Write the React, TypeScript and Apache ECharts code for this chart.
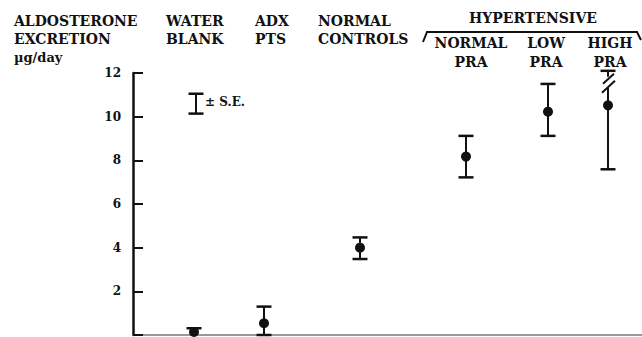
import React, { useEffect, useRef } from "react";
import * as echarts from "echarts";

// Column headers (two lines each) and their horizontal positions on the x value axis
const groupLine1 = ["WATER", "ADX", "NORMAL", "NORMAL", "LOW", "HIGH"];
const groupLine2 = ["BLANK", "PTS", "CONTROLS", "PRA", "PRA", "PRA"];
const groupX = [61, 131, 227, 333, 415, 475];
// Aldosterone excretion, µg/day: mean and ± S.E. limits
const means = [0.14, 0.54, 4.0, 8.17, 10.23, 10.52];
const lowerSE = [0.14, 0.0, 3.48, 7.22, 9.12, 7.59];
const upperSE = [0.31, 1.3, 4.47, 9.12, 11.5, 12.1];
const brokenTop = [0, 0, 0, 0, 0, 1];
// Legend error bar (± S.E.) drawn on the value scale
const legendX = 63;
const legendLow = 10.14;
const legendHigh = 11.05;
const yTicks = [0, 2, 4, 6, 8, 10, 12];

const INK = "#111";
const SERIF = '"DejaVu Serif", "Liberation Serif", serif';

export default function App() {
  const ref = useRef<HTMLDivElement>(null);
  useEffect(() => {
    document.body.style.margin = "0";
    const chart = echarts.init(ref.current!, null, { renderer: "svg" });

    const data = means.map((m, i) => [groupX[i], m, lowerSE[i], upperSE[i], brokenTop[i], 1]);
    const legendData = [[legendX, (legendLow + legendHigh) / 2, legendLow, legendHigh, 0, 0]];

    const renderItem = (params: any, api: any) => {
      const x = api.value(0);
      const m = api.value(1);
      const lo = api.value(2);
      const hi = api.value(3);
      const br = api.value(4);
      const dot = api.value(5);
      const pm = api.coord([x, m]);
      const pl = api.coord([x, lo]);
      const ph = api.coord([x, hi]);
      const cx = pm[0];
      const hw = 7.5;
      const st = { stroke: INK, lineWidth: 2 };
      const children: any[] = [];
      children.push({ type: "line", shape: { x1: cx - hw, y1: ph[1], x2: cx + hw, y2: ph[1] }, style: { stroke: INK, lineWidth: 2.5 } });
      if (lo < m || !dot) {
        children.push({ type: "line", shape: { x1: cx - hw, y1: pl[1], x2: cx + hw, y2: pl[1] }, style: { stroke: INK, lineWidth: 2.5 } });
      }
      if (br) {
        children.push({ type: "line", shape: { x1: cx, y1: ph[1], x2: cx, y2: ph[1] + 6 }, style: st });
        children.push({ type: "line", shape: { x1: cx - 5, y1: ph[1] + 13, x2: cx + 6, y2: ph[1] + 3 }, style: st });
        children.push({ type: "line", shape: { x1: cx - 6, y1: ph[1] + 22, x2: cx + 7, y2: ph[1] + 10 }, style: st });
        children.push({ type: "line", shape: { x1: cx, y1: ph[1] + 17, x2: cx, y2: pl[1] }, style: st });
      } else {
        children.push({ type: "line", shape: { x1: cx, y1: ph[1], x2: cx, y2: pl[1] }, style: st });
      }
      if (dot) {
        children.push({ type: "circle", shape: { cx, cy: pm[1], r: 5 }, style: { fill: INK } });
      } else {
        children.push({
          type: "text",
          style: {
            text: "± S.E.",
            x: cx + 9,
            y: (ph[1] + pl[1]) / 2 - 2,
            fill: INK,
            fontFamily: SERIF,
            fontWeight: "bold",
            fontSize: 12,
            textAlign: "left",
            textVerticalAlign: "middle",
          },
        });
      }
      return { type: "group", children };
    };

    const txt = (text: string, x: number, y: number, align = "left", size = 14) => ({
      type: "text",
      x,
      y,
      style: {
        text,
        fill: INK,
        fontFamily: SERIF,
        fontWeight: "bold",
        fontSize: size,
        textAlign: align,
        textVerticalAlign: "middle",
      },
    });

    const headerX = [166, 255, 318];
    const hyperCenters = [471, 546, 610];
    const graphics: any[] = [
      txt("ALDOSTERONE", 14, 21),
      txt("EXCRETION", 14, 39),
      txt("µg/day", 14, 57, "left", 13),
      txt("HYPERTENSIVE", 533, 18, "center"),
      {
        type: "polyline",
        shape: { points: [[423, 42], [427, 32], [637, 32], [641, 40]] },
        style: { stroke: INK, lineWidth: 2, fill: "none" },
      },
    ];
    for (let i = 0; i < 3; i++) {
      graphics.push(txt(groupLine1[i], headerX[i], 21));
      graphics.push(txt(groupLine2[i], headerX[i], 39));
    }
    for (let i = 3; i < 6; i++) {
      graphics.push(txt(groupLine1[i], hyperCenters[i - 3], 43, "center"));
      graphics.push(txt(groupLine2[i], hyperCenters[i - 3], 62, "center"));
    }

    chart.setOption({
      animation: false,
      backgroundColor: "#fff",
      grid: { left: 133, right: 0, top: 73, bottom: 2, containLabel: false },
      xAxis: {
        type: "value",
        min: 0,
        max: 509,
        axisLine: { show: true, lineStyle: { color: "#777", width: 1.5 } },
        axisTick: { show: false },
        axisLabel: { show: false },
        splitLine: { show: false },
      },
      yAxis: {
        type: "value",
        min: yTicks[0],
        max: yTicks[yTicks.length - 1],
        interval: 2,
        axisLine: { show: true, lineStyle: { color: INK, width: 2.5 } },
        axisTick: { show: true, inside: true, length: 10, lineStyle: { color: INK, width: 2 } },
        axisLabel: {
          formatter: (v: number) => (v === 0 ? "" : String(v)),
          color: INK,
          fontFamily: SERIF,
          fontWeight: "bold",
          fontSize: 12,
          margin: 12,
        },
        splitLine: { show: false },
      },
      graphic: graphics,
      series: [
        { type: "custom", renderItem, data, clip: false, silent: true },
        { type: "custom", renderItem, data: legendData, clip: false, silent: true },
      ],
    });
    return () => chart.dispose();
  }, []);
  return <div ref={ref} style={{ width: 642, height: 337 }} />;
}
